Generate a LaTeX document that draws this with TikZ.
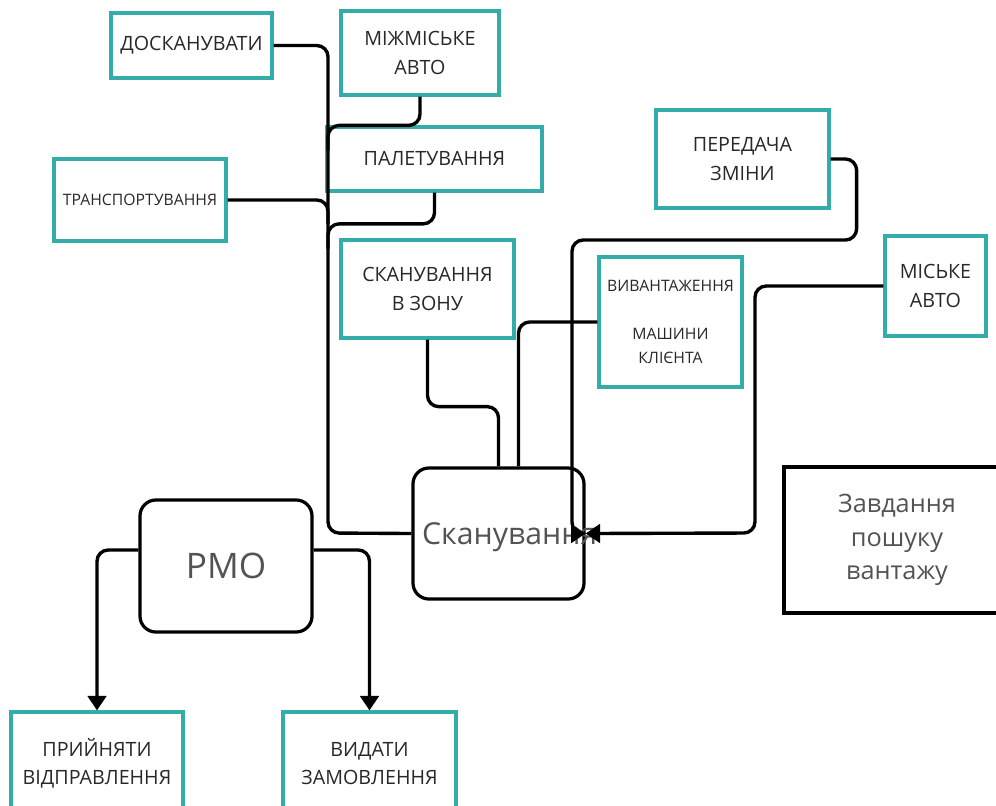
\documentclass[tikz,border=0pt]{standalone}
\usepackage{fontspec}
\setmainfont{Open Sans}
\usetikzlibrary{arrows.meta}
\usetikzlibrary{positioning}
\definecolor{tealline}{RGB}{52,172,170}
\definecolor{labelgray}{RGB}{40,40,40}
\tikzset{tealbox/.style={draw=tealline,line width=2.3pt,align=center,text=labelgray,
                         font=\fontsize{14}{20}\selectfont},
         smalltext/.style={font=\fontsize{11.2}{17}\selectfont},
         roundbox/.style={draw,line width=2.3pt,rounded corners=0.4cm},
         bigtext/.style={text=labelgray!80,font=\fontsize{21.5}{26}\selectfont},
         conn/.style={line width=2.4pt,rounded corners=0.28cm},
         arrowend/.style={-{Triangle[length=0.36cm,width=0.46cm]}},
         }

\begin{document}
\begin{tikzpicture}[x=0.025cm,y=-0.025cm]
\clip (0,0) rectangle (996,805);
% teal boxes
\node[tealbox,minimum width=4.025cm,minimum height=1.625cm] (dosk) at (191.5,45.5) {ДОСКАНУВАТИ};
\node[tealbox,minimum width=3.95cm,minimum height=2.1cm] (mizh) at (420,53) {МІЖМІСЬКЕ\\АВТО};
\node[tealbox,minimum width=5.375cm,minimum height=1.6cm] (pal) at (434.5,159) {ПАЛЕТУВАННЯ};
\node[tealbox,smalltext,minimum width=4.3cm,minimum height=2.05cm] (trans) at (140,200) {ТРАНСПОРТУВАННЯ};
\node[tealbox,minimum width=4.325cm,minimum height=2.45cm] (zona) at (427.5,289) {СКАНУВАННЯ\\В ЗОНУ};
\node[tealbox,smalltext,minimum width=3.575cm,minimum height=3.25cm] (vyv) at (670.5,322) {ВИВАНТАЖЕННЯ\\ ~ \\МАШИНИ\\КЛІЄНТА};
\node[tealbox,minimum width=4.325cm,minimum height=2.45cm] (pered) at (742.5,159) {ПЕРЕДАЧА\\ЗМІНИ};
\node[tealbox,minimum width=2.525cm,minimum height=2.5cm] (misk) at (935.5,286) {МІСЬКЕ\\АВТО};
\node[tealbox,minimum width=4.3cm,minimum height=2.575cm] (prij) at (97,763.5) {ПРИЙНЯТИ\\ВІДПРАВЛЕННЯ};
\node[tealbox,minimum width=4.325cm,minimum height=2.575cm] (vyd) at (369.5,763.5) {ВИДАТИ\\ЗАМОВЛЕННЯ};
% black boxes
\node[roundbox,minimum width=4.275cm,minimum height=3.275cm,
      label={[bigtext,xshift=0.28cm,yshift=-0.1cm]center:Сканування}] (skan) at (498.5,533.5) {};
\node[roundbox,text=labelgray!80,font=\fontsize{25}{30}\selectfont,
      minimum width=4.3cm,minimum height=3.3cm] (rmo) at (226,566) {РМО};
\node[draw,line width=2.3pt,align=center,text=labelgray!80,font=\fontsize{18}{24}\selectfont,
      minimum width=5.65cm,minimum height=3.65cm] (zavd) at (897,540) {Завдання\\пошуку\\вантажу};
% connectors
\coordinate (trunk) at (328,533);
\coordinate (pbend) at (572,240);
\coordinate (mbend) at (755,533);
\draw[conn] (dosk.east) -| (trunk) -- (skan.west);
\draw[conn] (mizh.south) |- (trunk|-pal.north) -- ++(0,25);
\draw[conn] (trans.east) -| ([yshift=-0.6cm]trunk|-trans.east);
\draw[conn] (pal.south) |- ([yshift=-0.78cm]trunk|-pal.south) -- ++(0,25);
\draw[conn] (zona.south) -- ++(0,67) -| (skan.north);
\draw[conn] (vyv.west) -| ([xshift=0.5cm]skan.north);
\draw[conn,arrowend] (pered.east) -- ++(26,0) |- (pbend) |- (skan.east);
\draw[conn,arrowend] (misk.west) -| (mbend) -- (skan.east);
\draw[conn,arrowend] ([yshift=0.4cm]rmo.west) -| (prij.north);
\draw[conn,arrowend] ([yshift=0.4cm]rmo.east) -| (vyd.north);
\end{tikzpicture}
\end{document}
